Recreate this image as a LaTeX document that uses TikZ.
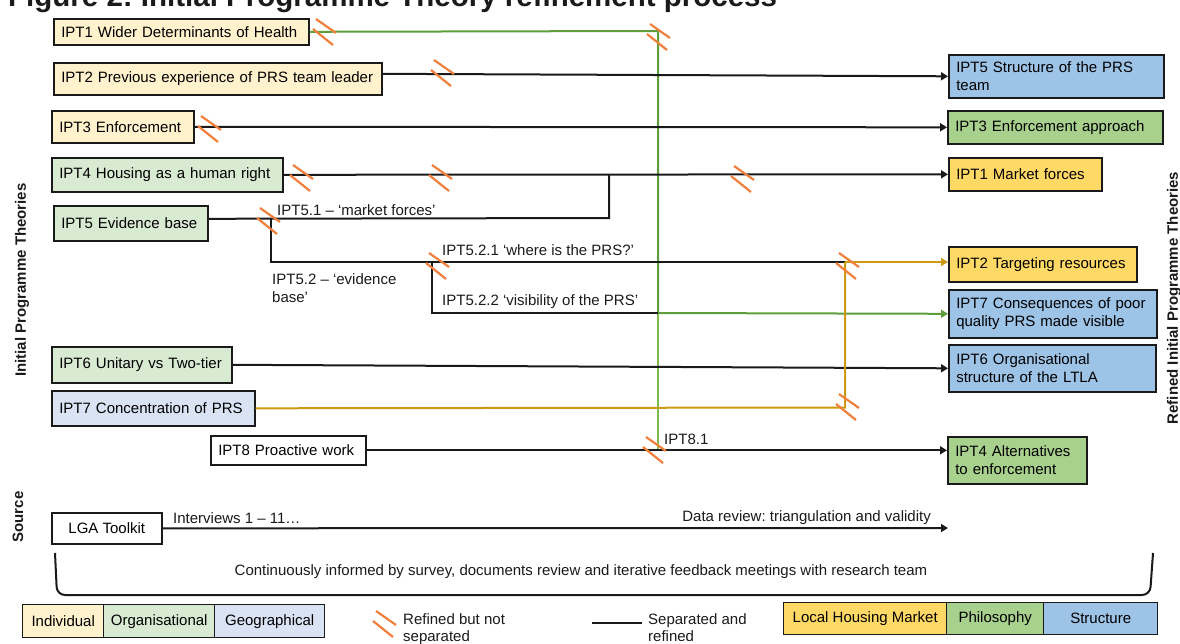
\documentclass[tikz,border=0pt]{standalone}
\usepackage{fontspec}
\setmainfont{Liberation Sans}
\usetikzlibrary{arrows.meta}
\frenchspacing

\definecolor{indiv}{HTML}{FFF2CC}
\definecolor{organ}{HTML}{D9EAD3}
\definecolor{geogr}{HTML}{DAE3F3}
\definecolor{lhm}{HTML}{FFD966}
\definecolor{philo}{HTML}{A9D18E}
\definecolor{struc}{HTML}{9DC3E6}
\definecolor{cutorange}{HTML}{F0803C}
\definecolor{gold}{HTML}{CC9A12}
\definecolor{greendark}{HTML}{5E9E3A}
\definecolor{greenlight}{HTML}{7DBB48}
\definecolor{ink}{HTML}{1A1A1A}

\begin{document}
\begin{tikzpicture}[x=1pt,y=-1pt,
  font=\fontsize{15}{17.5}\selectfont,
  box/.style={draw=ink, line width=1.6pt, rectangle, inner xsep=7.5pt, inner ysep=0pt,
              anchor=north west, align=left},
  sz/.style 2 args={minimum width=#1pt, minimum height=#2pt, text width=#1pt-15pt},
  legbox/.style={draw=ink, line width=1.4pt, rectangle, inner sep=0pt, anchor=north west, align=center},
  lsz/.style 2 args={minimum width=#1pt, minimum height=#2pt},
  plain/.style={draw=ink, line width=2pt},
  link/.style={plain, -{Triangle[length=7pt,width=8pt]}},
  goldline/.style={draw=gold, line width=2pt},
  goldarrow/.style={goldline, -{Triangle[length=7pt,width=8pt]}},
  greenline/.style={draw=greendark, line width=2pt},
  greenline2/.style={draw=greenlight, line width=2pt},
  greenarrow/.style={greenline, -{Triangle[length=7pt,width=8pt]}},
  lbl/.style={inner sep=0pt, anchor=west, text=ink},
  vlabel/.style={inner sep=0pt, rotate=90, font=\fontsize{15}{17}\selectfont\bfseries, text=ink},
  cutmark/.pic={\draw[cutorange, line width=2.2pt] (-8,-12) -- (12,2) (-11,-2) -- (9,14);}
]
\clip (0,0) rectangle (1180,643);
\useasboundingbox (0,0) rectangle (1180,643);

% heading
\node[anchor=base west, inner sep=0pt, font=\fontsize{29.5}{32}\selectfont\bfseries, text=ink]
  (title) at (8,6) {Figure 2: Initial Programme Theory refinement process};

% side captions
\node[vlabel] (initlab) at (22,280) {Initial Programme Theories};
\node[vlabel] (reflab) at (1174,298) {Refined Initial Programme Theories};
\node[vlabel] (srclab) at (18,517) {Source};

% junctions of the connector network
\coordinate (g1) at (658,31);
\coordinate (g2) at (658,313);
\coordinate (g3) at (658,450);
\coordinate (j51) at (609,218);
\coordinate (j5) at (271,218);
\coordinate (k1) at (271,262);
\coordinate (k2) at (432,262);
\coordinate (k3) at (432,313);
\coordinate (k4) at (845,262);
\coordinate (k5) at (845,407.5);
\coordinate (dataend) at (948,528);

% initial programme theories
\node[box, sz={255}{26}, fill=indiv] (i1) at (53,18) {IPT1 Wider Determinants of Health};
\node[box, sz={328}{32}, fill=indiv] (i2) at (53,62) {IPT2 Previous experience of PRS team leader};
\node[box, sz={142}{32}, fill=indiv] (i3) at (51,110) {IPT3 Enforcement};
\node[box, sz={231}{34}, fill=organ] (i4) at (51,157) {IPT4 Housing as a human right};
\node[box, sz={154}{35}, fill=organ] (i5) at (53,205) {IPT5 Evidence base};
\node[box, sz={180}{36}, fill=organ] (i6) at (51,346) {IPT6 Unitary vs Two-tier};
\node[box, sz={203}{35}, fill=geogr] (i7) at (51,390) {IPT7 Concentration of PRS};
\node[box, sz={155}{29}, fill=white] (i8) at (210,435) {IPT8 Proactive work};

% refined programme theories
\node[box, sz={215}{43}, fill=struc] (r5) at (948,54) {IPT5 Structure of the PRS\\team};
\node[box, sz={215}{33}, fill=philo] (r3) at (947,110) {IPT3 Enforcement approach};
\node[box, sz={153}{33}, fill=lhm] (r1) at (948,157) {IPT1 Market forces};
\node[box, sz={188}{35}, fill=lhm] (r2) at (948,246) {IPT2 Targeting resources};
\node[box, sz={208}{48}, fill=struc] (r7) at (948,289) {IPT7 Consequences of poor\\quality PRS made visible};
\node[box, sz={207}{47}, fill=struc] (r6) at (948,344) {IPT6 Organisational\\structure of the LTLA};
\node[box, sz={139}{47}, fill=philo] (r4) at (947,436) {IPT4 Alternatives\\to enforcement};

% source
\node[legbox, lsz={110}{31}, fill=white, line width=1.6pt] (lga) at (51,512) {LGA Toolkit};

% connectors
\draw[greenline] (i1.east) -- (g1) -- (g2);
\draw[greenline2] (g2) -- (g3);
\draw[link] ([yshift=5pt]i2.east) -- (r5.west);
\draw[link] (i3.east) -- (r3.west);
\draw[link] (i4.east) -- (r1.west);
\draw[plain] ([yshift=4.5pt]i5.east) -- (j51) -- (j51 |- i4.east);
\draw[plain] (j5) -- (k1) -- (k4);
\draw[goldarrow] (k4) -- (k4 -| r2.west);
\draw[plain] (k2) -- (k3) -- (g2);
\draw[greenarrow] (g2) -- (r7.west);
\draw[link] (i6.east) -- (r6.west);
\draw[goldline] (i7.east) -- (k5) -- (k4);
\draw[link] (i8.east) -- (i8.east -| r4.west);
\draw[link] (lga.east) -- (dataend);

% branch labels
\node[lbl] (l51) at (277,210) {IPT5.1 -- ‘market forces’};
\node[lbl, align=left] (l52) at (272,288) {IPT5.2 -- ‘evidence\\base’};
\node[lbl] (l521) at (442,250) {IPT5.2.1 ‘where is the PRS?’};
\node[lbl] (l522) at (442,302) {IPT5.2.2 ‘visibility of the PRS’};
\node[lbl] (l81) at (664,439) {IPT8.1};
\node[lbl] (intv) at (173,518) {Interviews 1 -- 11…};
\node[lbl, anchor=east] (drev) at (931,518) {Data review: triangulation and validity};

% ongoing input bracket
\draw[draw=ink, line width=2pt, rounded corners=8pt] (55,553) -- (57,595) -- (1150,595) -- (1153,553);
\node[inner sep=0pt, text=ink] (cont) at (581,572) {Continuously informed by survey, documents review and iterative feedback meetings with research team};

% refined-but-not-separated marks
\foreach \p in {(324,31),(658,36),(442,72),(209,128),(301,177),(440,177),(742,178),
                (268,220),(437,265),(847,265),(847,406),(654,449)}
  \pic at \p {cutmark};

% key: theory types
\node[legbox, lsz={81}{33}, fill=indiv] (k_ind) at (22,604) {Individual};
\node[legbox, lsz={111}{33}, fill=organ] (k_org) at (103,604) {Organisational};
\node[legbox, lsz={110}{33}, fill=geogr] (k_geo) at (214,604) {Geographical};
\node[legbox, lsz={163}{32}, fill=lhm] (k_lhm) at (783,602) {Local Housing Market};
\node[legbox, lsz={97}{32}, fill=philo] (k_phi) at (946,602) {Philosophy};
\node[legbox, lsz={114}{32}, fill=struc] (k_str) at (1043,602) {Structure};

% key: line meanings
\pic at (384,623) {cutmark};
\node[lbl, anchor=north west, align=left] (k_cut) at (403,613) {Refined but not\\separated};
\coordinate (ks1) at (592,623);
\coordinate (ks2) at (642,623);
\draw[plain] (ks1) -- (ks2);
\node[lbl, anchor=north west, align=left] (k_sep) at (648,613) {Separated and\\refined};
\end{tikzpicture}
\end{document}
